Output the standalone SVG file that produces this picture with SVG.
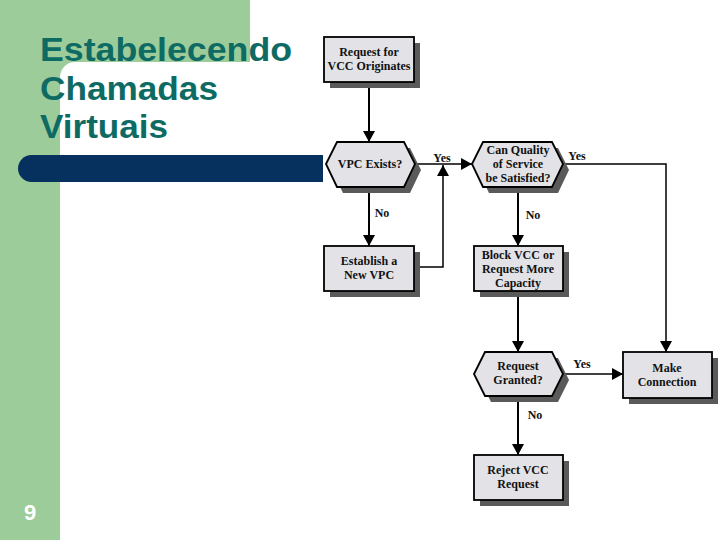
<svg xmlns="http://www.w3.org/2000/svg" width="720" height="540" viewBox="0 0 720 540">
  <style>
    .title { font-family: "Liberation Sans", Arial, sans-serif; font-size: 33px; font-weight: bold; fill: #0e6b64; }
    .num { font-family: "Liberation Sans", Arial, sans-serif; font-size: 22px; font-weight: bold; fill: #ffffff; }
    .box { fill: #e3e3e7; stroke: #000; stroke-width: 1.8; }
    .shadow { fill: #5a5a5a; stroke: none; }
    .lbl { font-family: "Liberation Serif", "Times New Roman", serif; font-size: 12px; font-weight: bold; fill: #111; text-anchor: middle; }
    .edge { fill: none; stroke: #000; stroke-width: 2; }
    .thin { fill: none; stroke: #000; stroke-width: 1.5; }
  </style>
  <defs>
    <marker id="arr" markerUnits="userSpaceOnUse" markerWidth="12" markerHeight="12" viewBox="0 0 11 12" refX="11" refY="6" orient="auto">
      <path d="M0,0 L11,6 L0,12 Z" fill="#000"/>
    </marker>
  </defs>
  <rect width="720" height="540" fill="#ffffff"/>
  <g id="background">
    <path d="M0,0 H250 V62 H75 A15 15 0 0 0 60 77 V540 H0 Z" fill="#9ccc9a"/>
    <path d="M323,155 H31.5 A13.5 13.5 0 0 0 31.5 182 H323 Z" fill="#06315f"/>
  </g>
  <g id="title">
    <text class="title" x="40" y="61" textLength="252" lengthAdjust="spacingAndGlyphs">Estabelecendo</text>
    <text class="title" x="40" y="100" textLength="178" lengthAdjust="spacingAndGlyphs">Chamadas</text>
    <text class="title" x="40" y="138" textLength="128" lengthAdjust="spacingAndGlyphs">Virtuais</text>
    <text class="num" x="30" y="520" text-anchor="middle">9</text>
  </g>
  <g id="connectors">
    <line class="edge" x1="369" y1="82" x2="369" y2="142" marker-end="url(#arr)"/>
    <line class="thin" x1="415" y1="164" x2="472" y2="164" marker-end="url(#arr)"/>
    <line class="edge" x1="369" y1="187" x2="369" y2="246" marker-end="url(#arr)"/>
    <polyline class="thin" points="414,267 443,267 443,165" marker-end="url(#arr)"/>
    <polyline class="thin" points="563,164 666,164 666,352" marker-end="url(#arr)"/>
    <line class="edge" x1="518" y1="187" x2="518" y2="246" marker-end="url(#arr)"/>
    <line class="edge" x1="518" y1="291" x2="518" y2="352" marker-end="url(#arr)"/>
    <line class="thin" x1="563" y1="374" x2="623" y2="374" marker-end="url(#arr)"/>
    <line class="edge" x1="518" y1="396" x2="518" y2="455" marker-end="url(#arr)"/>
    <text class="lbl" x="442" y="162">Yes</text>
    <text class="lbl" x="577" y="160">Yes</text>
    <text class="lbl" x="382" y="217">No</text>
    <text class="lbl" x="533" y="219">No</text>
    <text class="lbl" x="582" y="368">Yes</text>
    <text class="lbl" x="535" y="419">No</text>
  </g>
  <g id="n-request">
    <rect class="shadow" x="330" y="43" width="90" height="45"/>
    <rect class="box" x="324" y="37" width="90" height="45"/>
    <text class="lbl" x="369" y="56">Request for</text>
    <text class="lbl" x="369" y="70">VCC Originates</text>
  </g>
  <g id="n-vpc-exists">
    <polygon class="shadow" points="332,170 343,148 410,148 421,170 410,193 343,193"/>
    <polygon class="box" points="326,164 337,142 404,142 415,164 404,187 337,187"/>
    <text class="lbl" x="370" y="168">VPC Exists?</text>
  </g>
  <g id="n-qos">
    <polygon class="shadow" points="478,170 489,148 558,148 569,170 558,193 489,193"/>
    <polygon class="box" points="472,164 483,142 552,142 563,164 552,187 483,187"/>
    <text class="lbl" x="518" y="154">Can Quality</text>
    <text class="lbl" x="518" y="168">of Service</text>
    <text class="lbl" x="518" y="182">be Satisfied?</text>
  </g>
  <g id="n-establish">
    <rect class="shadow" x="330" y="252" width="90" height="45"/>
    <rect class="box" x="324" y="246" width="90" height="45"/>
    <text class="lbl" x="369" y="265">Establish a</text>
    <text class="lbl" x="369" y="279">New VPC</text>
  </g>
  <g id="n-block">
    <rect class="shadow" x="480" y="252" width="89" height="45"/>
    <rect class="box" x="474" y="246" width="89" height="45"/>
    <text class="lbl" x="518" y="259">Block VCC or</text>
    <text class="lbl" x="518" y="273">Request More</text>
    <text class="lbl" x="518" y="287">Capacity</text>
  </g>
  <g id="n-granted">
    <polygon class="shadow" points="480,380 491,358 558,358 569,380 558,402 491,402"/>
    <polygon class="box" points="474,374 485,352 552,352 563,374 552,396 485,396"/>
    <text class="lbl" x="518" y="370">Request</text>
    <text class="lbl" x="518" y="384">Granted?</text>
  </g>
  <g id="n-make">
    <rect class="shadow" x="629" y="358" width="89" height="46"/>
    <rect class="box" x="623" y="352" width="89" height="46"/>
    <text class="lbl" x="667" y="372">Make</text>
    <text class="lbl" x="667" y="386">Connection</text>
  </g>
  <g id="n-reject">
    <rect class="shadow" x="480" y="461" width="89" height="45"/>
    <rect class="box" x="474" y="455" width="89" height="45"/>
    <text class="lbl" x="518" y="474">Reject VCC</text>
    <text class="lbl" x="518" y="488">Request</text>
  </g>
</svg>
